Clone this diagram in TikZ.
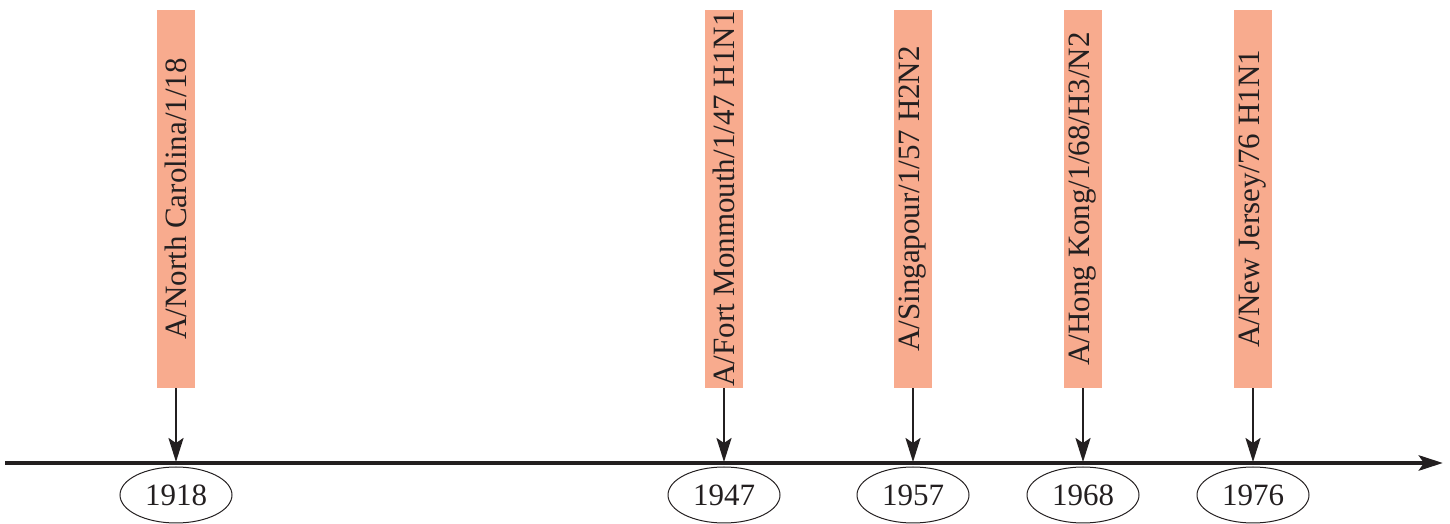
\documentclass[tikz,border=0pt]{standalone}
\usepackage{fontspec}
\setmainfont{Liberation Serif}
\usepackage{xcolor}
\usetikzlibrary{arrows.meta,shapes.geometric}
\definecolor{ink}{HTML}{231F20}
\definecolor{salmon}{HTML}{F8AB8E}
\tikzset{
  axis/.style={draw=ink, line width=4.8pt, -{Stealth[length=24pt,width=15pt,inset=5pt]}},
  pointer/.style={draw=ink, line width=2.3pt, -{Stealth[length=24pt,width=15pt,inset=5pt]}},
  strain/.style={fill=salmon, rotate=90, minimum width=378pt, minimum height=38pt,
    inner sep=0pt, text=ink, font=\fontsize{31}{36}\selectfont},
  year/.style={ellipse, draw=ink, line width=1pt, minimum width=112pt, minimum height=56pt,
    inner sep=0pt, text=ink, font=\fontsize{31}{36}\selectfont},
}
\begin{document}
\begin{tikzpicture}[x=1pt,y=1pt]
  \useasboundingbox (0,0) rectangle (1450,524);
  \coordinate (start) at (5,61);
  \coordinate (end) at (1443,61);
  \draw[axis] (start) -- (end); % time line
  \foreach \X/\Y/\S in {176/1918/{A/North Carolina/1/18},
                        724/1947/{A/Fort Monmouth/1/47 H1N1},
                        913/1957/{A/Singapour/1/57 H2N2},
                        1083/1968/{A/Hong Kong/1/68/H3/N2},
                        1253/1976/{A/New Jersey/76 H1N1}}{
    \node[strain] (s\Y) at (\X,325) {\S};
    \node[year] (y\Y) at (\X,29) {\Y};
    \coordinate (t\Y) at (\X,62);
    \draw[pointer] (s\Y.west) -- (t\Y);
  }
\end{tikzpicture}
\end{document}
